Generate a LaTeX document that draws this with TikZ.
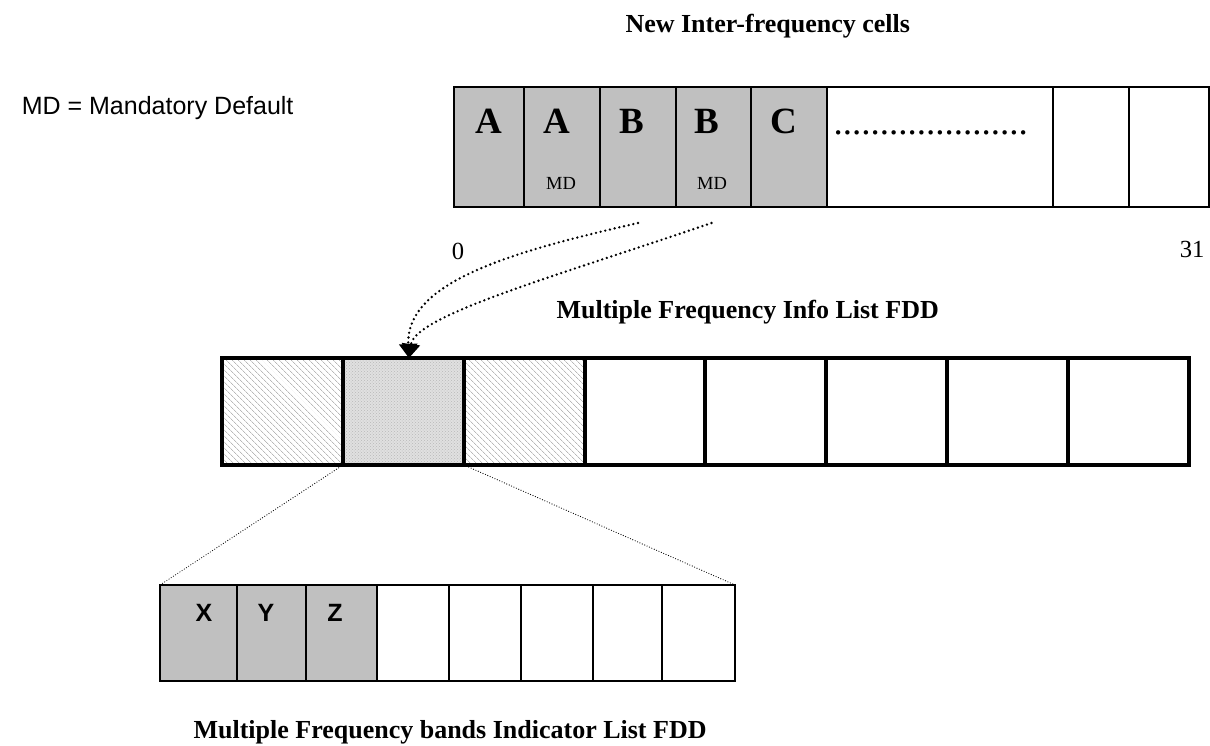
\documentclass[tikz,border=0pt]{standalone}
\usepackage{fontspec}
\setmainfont{Liberation Serif}
\setsansfont{Liberation Sans}
\usetikzlibrary{patterns,patterns.meta,arrows.meta,calc}
\definecolor{cellgray}{RGB}{192,192,192}
\tikzset{
  cellbox/.style={draw, inner sep=0pt, outer sep=0pt, anchor=north west},
  topcell/.style={cellbox, line width=1.8pt, minimum height=120pt},
  midcell/.style={cellbox, line width=3.2pt, minimum height=107pt},
  botcell/.style={cellbox, line width=1.8pt, minimum height=96pt},
  hatchA/.style={pattern={Lines[angle=-45,distance=4pt,line width=0.8pt]}, pattern color=black!28},
  hatchB/.style={preaction={fill=black!12}, pattern=crosshatch dots, pattern color=black!28},
  bigletter/.style={anchor=base, font=\bfseries\fontsize{37}{40}\selectfont},
  smalltext/.style={anchor=base, font=\fontsize{18.5}{21}\selectfont},
  caption/.style={anchor=base west, font=\bfseries\fontsize{26}{30}\selectfont},
  plain/.style={font=\fontsize{24.6}{28}\selectfont},
  sansletter/.style={anchor=base, font=\sffamily\bfseries\fontsize{25}{28}\selectfont},
  bigdots/.style={line width=2.6pt, dash pattern=on 0pt off 4.8pt, line cap=round},
  thindots/.style={line width=1.2pt, dash pattern=on 0pt off 2.6pt, line cap=round}
}
\begin{document}
\begin{tikzpicture}[x=1pt,y=-1pt]
\useasboundingbox (0,0) rectangle (1210,745);
% top row
\foreach \n/\l/\r/\f in {1/454/524/cellgray, 2/524/600/cellgray, 3/600/676/cellgray,
  4/676/751/cellgray, 5/751/827/cellgray, 6/827/1053/white, 7/1053/1129/white, 8/1129/1209/white}
  \node[topcell, fill=\f, minimum width={(\r-\l)*1pt}] (t\n) at (\l,87) {};
\node[bigletter] (la1) at (488.5,133) {A};
\node[bigletter] (la2) at (556.5,133) {A};
\node[bigletter] (lb1) at (632,133) {B};
\node[bigletter] (lb2) at (707,133) {B};
\node[bigletter] (lc) at (784,133) {C};
\node[smalltext] (md1) at (561,189) {MD};
\node[smalltext] (md2) at (712,189) {MD};
\node[anchor=base west, font=\fontsize{37}{40}\selectfont] (dots) at (830,134) {.....................};
% middle row
\foreach \n/\l/\r in {1/222/343, 2/343/464, 3/464/585, 4/585/705, 5/705/826, 6/826/947, 7/947/1068, 8/1068/1189}
  \node[midcell, minimum width={(\r-\l)*1pt}] (m\n) at (\l,358) {};
\node[midcell, hatchA, minimum width=121pt] (h1) at (222,358) {};
\node[midcell, hatchB, minimum width=121pt] (h2) at (343,358) {};
\node[midcell, hatchA, minimum width=121pt] (h3) at (464,358) {};
% bottom row
\foreach \n/\l/\r/\f in {1/160/237/cellgray, 2/237/306/cellgray, 3/306/377/cellgray, 4/377/449/white,
  5/449/521/white, 6/521/593/white, 7/593/662/white, 8/662/735/white}
  \node[botcell, fill=\f, minimum width={(\r-\l)*1pt}] (b\n) at (\l,585) {};
\node[sansletter] (lx) at (204,621) {X};
\node[sansletter] (ly) at (266,621) {Y};
\node[sansletter] (lz) at (335,621) {Z};
% texts
\node[caption] (title) at (622,32) {New Inter-frequency cells};
\node[anchor=base east, font=\sffamily\fontsize{25}{28}\selectfont] (legend) at (297,114) {MD = Mandatory Default};
\node[plain, anchor=base] (zero) at (458,259) {0};
\node[plain, anchor=base east] (thirtyone) at (1208,257) {31};
\node[caption] (midtitle) at (553,318) {Multiple Frequency Info List FDD};
\node[caption] (bottitle) at (190,738) {Multiple Frequency bands Indicator List FDD};
% connectors
\coordinate (s1) at ($(t3.south)+(0,16)$);
\coordinate (s2) at ($(t4.south)+(-2,16)$);
\coordinate (tip) at ($(m2.north)+(5.5,0)$);
\draw[bigdots, -{Triangle[width=18pt,length=14pt]}] (s1) .. controls (520,250) and (405,280) .. (tip);
\draw[bigdots, -{Triangle[width=18pt,length=14pt]}] (s2) .. controls (560,275) and (415,315) .. (tip);
\draw[thindots] (m2.south west) -- (b1.north west);
\draw[thindots] (m2.south east) -- (b8.north east);
\end{tikzpicture}
\end{document}
